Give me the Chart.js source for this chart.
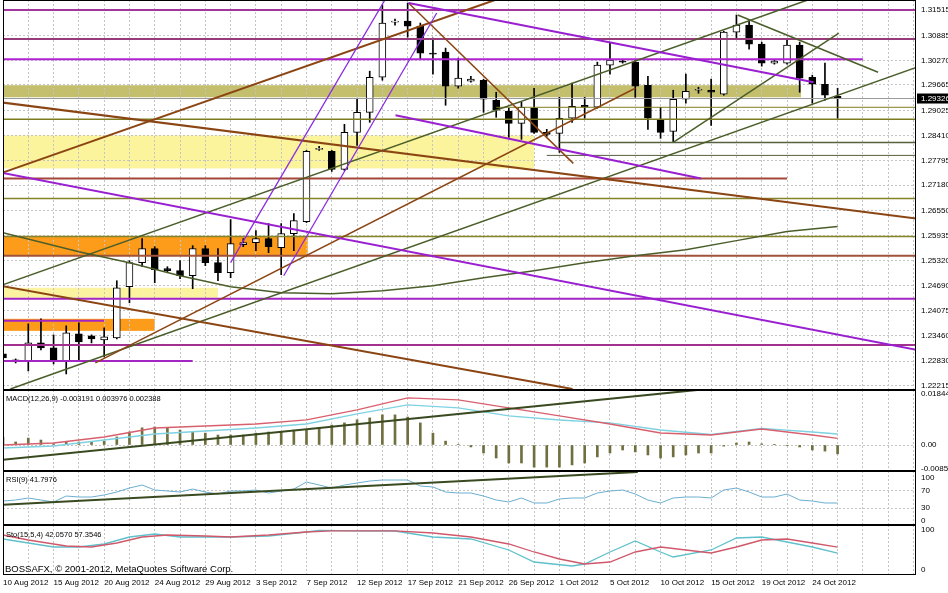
<!DOCTYPE html>
<html>
<head>
<meta charset="utf-8">
<script src="https://cdn.jsdelivr.net/npm/chart.js@4.4.0/dist/chart.umd.min.js"></script>
<style>
body { margin: 0; background: #fff; width: 948px; height: 593px; overflow: hidden; position: relative; font-family: 'Liberation Sans', Arial, sans-serif; }
canvas { position: absolute; left: 0; }
.lbl { position: absolute; font-size: 7.5px; color: #000; white-space: nowrap; line-height: 9px; }
</style>
</head>
<body>
<canvas id="cMain" width="948" height="390" style="top:0"></canvas>
<canvas id="cMacd" width="948" height="81" style="top:390px"></canvas>
<canvas id="cRsi" width="948" height="54" style="top:471px"></canvas>
<canvas id="cSto" width="948" height="68" style="top:525px"></canvas>
<div class="lbl" style="left:6px;top:394px">MACD(12,26,9) -0.003191 0.003976 0.002388</div>
<div class="lbl" style="left:6px;top:475px">RSI(9) 41.7976</div>
<div class="lbl" style="left:6px;top:530px">Sto(15,5,4) 42.0570 57.3546</div>
<div class="lbl" style="left:5px;top:563px;font-size:9.5px;line-height:11px">BOSSAFX, © 2001-2012, MetaQuotes Software Corp.</div>
<script>
// daily bars, 10 Aug 2012 .. 26 Oct 2012 (index 0..66)
var dateLabels = ['10 Aug 2012', '15 Aug 2012', '20 Aug 2012', '24 Aug 2012', '29 Aug 2012', '3 Sep 2012', '7 Sep 2012', '12 Sep 2012', '17 Sep 2012', '21 Sep 2012', '26 Sep 2012', '1 Oct 2012', '5 Oct 2012', '10 Oct 2012', '15 Oct 2012', '19 Oct 2012', '24 Oct 2012'];

var opens = [1.23009, 1.22835, 1.22835, 1.23281, 1.23157, 1.22835, 1.23505, 1.23455, 1.23356, 1.23405,
    1.24670, 1.25265, 1.25613, 1.25117, 1.25067, 1.24943, 1.25613, 1.25265, 1.25017, 1.25712,
    1.25761, 1.25861, 1.25637, 1.25985, 1.26282, 1.28068, 1.28018, 1.27572, 1.28489, 1.28985,
    1.29853, 1.31217, 1.31242, 1.31118, 1.30449, 1.30473, 1.29630, 1.29754, 1.29779, 1.29283,
    1.29010, 1.28713, 1.29085, 1.28489, 1.28465, 1.28837, 1.29159, 1.29109, 1.30151, 1.30250,
    1.30225, 1.29655, 1.28787, 1.28514, 1.29308, 1.29531, 1.29531, 1.29432, 1.30969, 1.31143,
    1.30672, 1.30201, 1.30201, 1.30647, 1.29853, 1.29680, 1.29382];
var highs = [1.23083, 1.22885, 1.23753, 1.23877, 1.23480, 1.23703, 1.23777, 1.23480, 1.23653, 1.24819,
    1.25315, 1.25861, 1.25662, 1.25166, 1.25315, 1.25687, 1.25687, 1.25613, 1.26332, 1.25861,
    1.26059, 1.26233, 1.26233, 1.26481, 1.28043, 1.28142, 1.28043, 1.28688, 1.29333, 1.30002,
    1.31639, 1.31292, 1.31689, 1.31193, 1.30821, 1.30573, 1.30325, 1.29878, 1.29804, 1.29481,
    1.29085, 1.29233, 1.29581, 1.28564, 1.29357, 1.29705, 1.29357, 1.30225, 1.30697, 1.30275,
    1.30275, 1.29878, 1.29109, 1.29531, 1.29928, 1.29605, 1.29804, 1.30990, 1.31391, 1.31267,
    1.30721, 1.30275, 1.30771, 1.30721, 1.29903, 1.30201, 1.29581];
var lows = [1.22835, 1.22785, 1.22587, 1.23108, 1.22761, 1.22513, 1.22835, 1.23281, 1.22934, 1.23380,
    1.24273, 1.25166, 1.24769, 1.25017, 1.24869, 1.24621, 1.25191, 1.24819, 1.24893, 1.25662,
    1.25563, 1.25513, 1.24968, 1.25563, 1.26257, 1.28043, 1.27522, 1.27547, 1.28167, 1.28737,
    1.29779, 1.31143, 1.30845, 1.30300, 1.29928, 1.29159, 1.29581, 1.29729, 1.28985, 1.28861,
    1.28365, 1.28316, 1.28465, 1.28390, 1.27993, 1.28737, 1.28837, 1.29085, 1.29928, 1.30201,
    1.29357, 1.28564, 1.28341, 1.28241, 1.29209, 1.29457, 1.28663, 1.29407, 1.30821, 1.30548,
    1.30126, 1.30176, 1.30176, 1.29481, 1.29209, 1.29283, 1.28837];
var closes = [1.22909, 1.22840, 1.23281, 1.23157, 1.22860, 1.23529, 1.23306, 1.23381, 1.23430, 1.24645,
    1.25265, 1.25613, 1.25092, 1.25067, 1.24943, 1.25613, 1.25265, 1.25017, 1.25737, 1.25761,
    1.25861, 1.25662, 1.25985, 1.26307, 1.28018, 1.28093, 1.27572, 1.28489, 1.28985, 1.29853,
    1.31193, 1.31242, 1.31118, 1.30449, 1.30424, 1.29630, 1.29829, 1.29804, 1.29308, 1.29035,
    1.28713, 1.29109, 1.28489, 1.28440, 1.28837, 1.29134, 1.29109, 1.30151, 1.30275, 1.30225,
    1.29630, 1.28837, 1.28489, 1.29308, 1.29506, 1.29540, 1.29481, 1.30969, 1.31143, 1.30672,
    1.30201, 1.30250, 1.30647, 1.29829, 1.29680, 1.29407, 1.29326];

var priceTicks = [1.31515, 1.30885, 1.30270, 1.29665, 1.29025, 1.28410, 1.27795, 1.27180, 1.26550, 1.25935, 1.25320, 1.24690, 1.24075, 1.23460, 1.22830, 1.22215];

// moving average (read at some bars)
var maBars = [0, 6, 10, 14, 18, 22, 26, 30, 34, 38, 42, 46, 50, 54, 58, 62, 66];
var maValues = [1.26009, 1.25538, 1.25265, 1.24943, 1.24670, 1.24521, 1.24497, 1.24571, 1.24695, 1.24893, 1.25067, 1.25265, 1.25439, 1.25588, 1.25811, 1.26034, 1.26158];

// horizontal levels drawn on the price chart
var levels = [1.31515, 1.30796, 1.30300, 1.29109, 1.28812, 1.28241, 1.27919, 1.27349, 1.26853, 1.25910, 1.25439, 1.24373, 1.23827, 1.23232, 1.22835];
var levelFrom = [-1, -1, -1, 39, -1, 44, 43, -1, -1, -1, -1, -1, -1, -1, -1];
var levelTo = [73, 73, 68, 73, 73, 73, 73, 62, 73, 73, 73, 73, 8, 73, 15];
var levelColors = ['#a3369f', '#963c7c', '#b024d4', '#7d7d20', '#7d7d20', '#56603f', '#56603f', '#a4473a', '#84842a', '#84842a', '#a0523a', '#a524c4', '#a524c4', '#a1308f', '#a524c4'];
var levelWidths = [2, 2, 2, 1, 1.5, 1.5, 1, 2, 1.5, 1.5, 2, 2, 2, 2, 2];

// shaded zones
var bandTop = [1.29655, 1.28415, 1.25910, 1.24645, 1.23877];
var bandBottom = [1.29357, 1.27597, 1.25439, 1.24397, 1.23579];
var bandFrom = [-1, -1, -1, -1, -1];
var bandTo = [63.1, 42, 24.1, 17, 12];
var bandColors = ['#c4bf6c', '#fbf49c', '#fd9c1b', '#fbf39f', '#fd9c1b'];

// trend lines (bar index, price)
var trendFromBar = [-0.21, 32.07, 31.04, 18.0, 22.2, 32.07, -0.21, -0.21, 7.3, -0.21, -0.21, 0.58, 58.1, 53.0];
var trendFromPrice = [1.27497, 1.31689, 1.28911, 1.25265, 1.24943, 1.31689, 1.27473, 1.29233, 1.22785, 1.24695, 1.24695, 1.22141, 1.31391, 1.28241];
var trendToBar = [72.26, 64.1, 55.2, 30.2, 34.3, 45.1, 38.9, 72.26, 50.0, 45.04, 63.63, 72.26, 69.2, 66.1];
var trendToPrice = [1.23108, 1.29729, 1.27349, 1.31763, 1.31441, 1.27721, 1.31763, 1.26357, 1.29581, 1.22141, 1.31763, 1.30101, 1.29977, 1.30945];
var trendColors = ['#9a1fd0', '#9a1fd0', '#9a1fd0', '#8a2be2', '#8a2be2', '#8b4513', '#8b4513', '#8b4513', '#8b4513', '#8b4513', '#4b5e2a', '#4b5e2a', '#4b5e2a', '#4b5e2a'];
var trendWidths = [2, 2, 2, 1.3, 1.3, 1.5, 2, 2, 1.5, 2, 1.5, 1.5, 1.5, 1.5];

// MACD
var macdHist = [0.0029, 0.0011, 0.0025, 0.0018, 0.0004, 0.0011, 0.0011, 0.0011, 0.0014, 0.0029,
    0.0047, 0.0062, 0.0065, 0.0062, 0.0054, 0.0047, 0.0043, 0.0036, 0.0036, 0.0036,
    0.0043, 0.0047, 0.0047, 0.0054, 0.0054, 0.0062, 0.0072, 0.0080, 0.0091, 0.0098,
    0.0109, 0.0109, 0.0101, 0.0080, 0.0043, 0.0014, 0.0002, -0.0007, -0.0029, -0.0047,
    -0.0065, -0.0065, -0.0080, -0.0080, -0.0080, -0.0072, -0.0065, -0.0043, -0.0029, -0.0018,
    -0.0025, -0.0036, -0.0047, -0.0043, -0.0036, -0.0029, -0.0029, -0.0004, 0.0007, 0.0011,
    0.0004, 0.0001, -0.0001, -0.0007, -0.0018, -0.0022, -0.0032];
var macdBars = [0, 4, 8, 12, 16, 20, 24, 28, 32, 36, 40, 44, 48, 52, 56, 60, 64, 66];
var macdMain = [-0.00109, -0.00036, 0.00181, 0.00398, 0.00507, 0.00615, 0.00760, 0.01122, 0.01448, 0.01339, 0.01050, 0.00905, 0.00800, 0.00543, 0.00380, 0.00600, 0.00470, 0.00398];
var macdSignal = [0.00000, 0.00072, 0.00290, 0.00615, 0.00688, 0.00760, 0.00905, 0.01267, 0.01701, 0.01629, 0.01339, 0.01050, 0.00760, 0.00434, 0.00362, 0.00579, 0.00362, 0.00239];
var macdTicks = [0.01844, 0, -0.00851];
var macdTickLabels = ['0.01844', '0.00', '-0.00851'];
var macdTrendBar = [-0.21, 54.9];
var macdTrendValue = [-0.00542, 0.0199];

// RSI(9)
var rsiValues = [46.5, 48.8, 53.5, 48.8, 44.2, 58.1, 55.8, 55.8, 60.5, 67.4,
    76.7, 83.7, 72.1, 69.8, 67.4, 74.4, 67.4, 62.8, 69.8, 69.8,
    72.1, 65.1, 69.8, 74.4, 90.7, 83.7, 76.7, 83.7, 88.4, 93.0,
    95.3, 95.3, 95.3, 81.4, 79.1, 67.4, 65.1, 65.1, 58.1, 48.8,
    44.2, 53.5, 41.9, 41.9, 51.2, 53.5, 53.5, 65.1, 69.8, 72.1,
    62.8, 48.8, 41.9, 53.5, 55.8, 55.8, 53.5, 72.1, 76.7, 67.4,
    55.8, 55.8, 62.8, 48.8, 46.5, 41.9, 41.8];
var rsiTicks = [100, 70, 30, 0];
var rsiTrendBar = [-0.21, 50.2];
var rsiTrendValue = [37.2, 114];

// Stochastic(15,5,4)
var stoKBars = [0, 2, 4, 6, 8, 10, 12, 14, 16, 18, 21, 24, 25, 28, 31, 34, 37, 40, 42, 45, 46, 48, 50, 52, 53, 56, 58, 60, 62, 64, 66];
var stoK = [77.5, 67.5, 57.5, 57.5, 65, 82.5, 90, 82.5, 82.5, 82.5, 85, 95, 99, 98, 97.5, 82.5, 77.5, 50, 20, 10, 15, 45, 72.5, 45, 32.5, 50, 80, 82.5, 70, 57.5, 42.06];
var stoDBars = [0, 2, 5, 7, 9, 11, 13, 16, 18, 21, 24, 26, 31, 34, 37, 40, 42, 44, 46, 48, 50, 52, 54, 56, 58, 60, 62, 64, 66];
var stoD = [87.5, 75, 60, 57.5, 67.5, 82.5, 87.5, 85, 82.5, 87.5, 95, 98, 98, 92.5, 82.5, 65, 45, 27.5, 15, 20, 45, 57.5, 50, 42.5, 57.5, 75, 77.5, 67.5, 57.35];
var stoTicks = [100, 0];

var FONT = "'Liberation Sans', Arial, sans-serif";
var GRID = '#c4c4c4';

function pts(xs, ys) {
    return xs.map(function (x, i) { return { x: x, y: ys[i] }; });
}

function lineSet(data, color, width, order) {
    return { type: 'line', data: data, borderColor: color, borderWidth: width, pointRadius: 0, fill: false, tension: 0, order: order };
}

// eje x compartido por los cuatro paneles
function xAxis(showLabels) {
    return {
        type: 'linear', min: 0, max: 72.2, offset: false,
        grid: { color: GRID, drawTicks: false, offset: false },
        border: { display: false, dash: [2, 2] },
        ticks: {
            display: showLabels, autoSkip: false, maxRotation: 0, align: 'start', padding: 3,
            font: { family: FONT, size: 8 }, color: '#000',
            callback: function (v) { return (v % 4 === 0 && dateLabels[v / 4]) ? dateLabels[v / 4] : ''; }
        },
        afterBuildTicks: function (s) {
            var t = [];
            for (var v = 0; v <= 72; v += 2) t.push({ value: v });
            s.ticks = t;
        },
        afterFit: function (s) { s.height = showLabels ? 18 : 0; s.paddingLeft = 0; s.paddingRight = 0; }
    };
}

function yAxis(min, max, ticks, fmt, gridColor) {
    return {
        position: 'right', min: min, max: max, beginAtZero: false,
        grid: { color: gridColor || GRID, drawTicks: false },
        border: { display: false, dash: [2, 2] },
        ticks: { padding: 5, autoSkip: false, font: { family: FONT, size: 8 }, color: '#000', callback: fmt },
        afterBuildTicks: function (s) { s.ticks = ticks.map(function (v) { return { value: v }; }); },
        afterFit: function (s) { s.width = 32; s.paddingTop = 0; s.paddingBottom = 0; }
    };
}

var framePlugin = {
    id: 'frame',
    afterDraw: function (chart) {
        var a = chart.chartArea, c = chart.ctx;
        c.save();
        c.strokeStyle = '#000';
        c.lineWidth = 1;
        c.strokeRect(a.left + 0.5, a.top + 0.5, a.right - a.left - 1, a.bottom - a.top - 1);
        c.restore();
    }
};

var bandPlugin = {
    id: 'bands',
    beforeDraw: function (chart) {
        var a = chart.chartArea, c = chart.ctx, x = chart.scales.x, y = chart.scales.y;
        c.save();
        c.beginPath();
        c.rect(a.left, a.top, a.right - a.left, a.bottom - a.top);
        c.clip();
        bandTop.forEach(function (t, i) {
            var x0 = x.getPixelForValue(bandFrom[i]), x1 = x.getPixelForValue(bandTo[i]);
            var y0 = y.getPixelForValue(t), y1 = y.getPixelForValue(bandBottom[i]);
            c.fillStyle = bandColors[i];
            c.fillRect(x0, y0, x1 - x0, y1 - y0);
        });
        c.restore();
    }
};

var priceBoxPlugin = {
    id: 'pricebox',
    afterDraw: function (chart) {
        var a = chart.chartArea, c = chart.ctx;
        var last = closes[closes.length - 1];
        var py = chart.scales.y.getPixelForValue(last);
        c.save();
        c.fillStyle = '#000';
        c.fillRect(a.right + 1, py - 5, 32, 10);
        c.fillStyle = '#fff';
        c.font = '8px ' + FONT;
        c.textBaseline = 'middle';
        c.fillText(last.toFixed(5), a.right + 5, py);
        c.restore();
    }
};

var baseOptions = function (scales) {
    return {
        responsive: false, animation: false,
        layout: { padding: { left: 3, right: 0, top: 0, bottom: 0 } },
        plugins: { legend: { display: false }, tooltip: { enabled: false } },
        scales: scales
    };
};

// Gráfica principal de velas
var mainSets = [];
mainSets.push({
    type: 'bar', data: highs.map(function (h, i) { return { x: i, y: [lows[i], h] }; }),
    backgroundColor: '#000', barThickness: 1, grouped: false, order: 9
});
mainSets.push({
    type: 'bar', data: opens.map(function (o, i) { return { x: i, y: [o, closes[i]] }; }),
    backgroundColor: function (ctx) { var i = ctx.dataIndex; return closes[i] >= opens[i] ? '#fff' : '#000'; },
    borderColor: '#000', borderWidth: 1, borderSkipped: false, barThickness: 7, minBarLength: 1, grouped: false, order: 8
});
mainSets.push(lineSet([{ x: -1, y: closes[closes.length - 1] }, { x: 73, y: closes[closes.length - 1] }], '#9a9a9a', 1, 7));
levels.forEach(function (v, i) {
    mainSets.push(lineSet([{ x: levelFrom[i], y: v }, { x: levelTo[i], y: v }], levelColors[i], levelWidths[i], 6));
});
mainSets.push(lineSet(pts(maBars, maValues), '#4b5e2a', 1.5, 5));
trendFromBar.forEach(function (b, i) {
    mainSets.push(lineSet([{ x: b, y: trendFromPrice[i] }, { x: trendToBar[i], y: trendToPrice[i] }], trendColors[i], trendWidths[i], 4));
});

new Chart(document.getElementById('cMain'), {
    type: 'bar',
    data: { datasets: mainSets },
    options: baseOptions({
        x: xAxis(false),
        y: yAxis(1.22116, 1.31763, priceTicks, function (v) { return Number(v).toFixed(5); })
    }),
    plugins: [bandPlugin, framePlugin, priceBoxPlugin]
});

// MACD
new Chart(document.getElementById('cMacd'), {
    type: 'bar',
    data: {
        datasets: [
            { type: 'bar', data: macdHist.map(function (v, i) { return { x: i, y: v }; }), backgroundColor: '#6f6f40', barThickness: 2, grouped: false, order: 5 },
            lineSet(pts(macdBars, macdMain), '#7fd2e2', 1.3, 3),
            lineSet(pts(macdBars, macdSignal), '#d8606e', 1.3, 2),
            lineSet(pts(macdTrendBar, macdTrendValue), '#3a4a20', 2, 1)
        ]
    },
    options: baseOptions({
        x: xAxis(false),
        y: yAxis(-0.0094, 0.01989, macdTicks, function (v, i) { return macdTickLabels[i]; },
            function (c) { return c.tick && c.tick.value === 0 ? GRID : 'rgba(0,0,0,0)'; })
    }),
    plugins: [framePlugin]
});

// RSI
new Chart(document.getElementById('cRsi'), {
    type: 'line',
    data: {
        datasets: [
            lineSet(rsiValues.map(function (v, i) { return { x: i, y: v }; }), '#6aaed0', 1, 2),
            lineSet(pts(rsiTrendBar, rsiTrendValue), '#3a4a20', 2, 1)
        ]
    },
    options: baseOptions({
        x: xAxis(false),
        y: yAxis(-9.3, 116.3, rsiTicks, function (v) { return String(v); },
            function (c) { return c.tick && (c.tick.value === 70 || c.tick.value === 30) ? GRID : 'rgba(0,0,0,0)'; })
    }),
    plugins: [framePlugin]
});

// Estocástico
new Chart(document.getElementById('cSto'), {
    type: 'line',
    data: {
        datasets: [
            lineSet(pts(stoKBars, stoK), '#5fc0cc', 1.3, 2),
            lineSet(pts(stoDBars, stoD), '#d0586a', 1.3, 1)
        ]
    },
    options: baseOptions({
        x: xAxis(true),
        y: yAxis(-12.5, 112.5, stoTicks, function (v) { return String(v); }, 'rgba(0,0,0,0)')
    }),
    plugins: [framePlugin]
});
</script>
</body>
</html>
